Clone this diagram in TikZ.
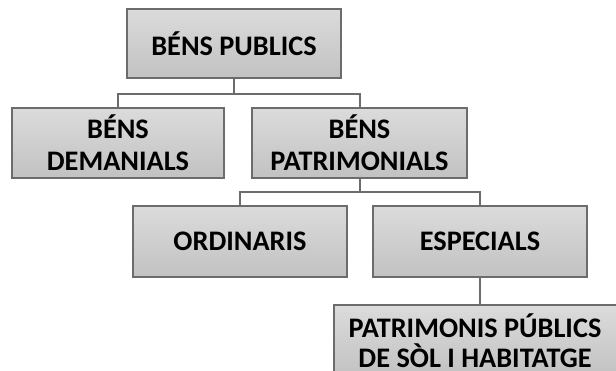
\documentclass[tikz,border=0pt]{standalone}
\usepackage{fontspec}
\setmainfont{Carlito}
\usetikzlibrary{shadows}

\begin{document}
\begin{tikzpicture}[
    x = 1pt, y = -1pt,
    box/.style = {draw = gray!85!black, line width = 1.2pt,
        top color = gray!28, bottom color = gray!48,
        minimum height = 70pt, align = center, inner sep = 0pt,
        font = \fontsize{28.3}{32}\selectfont\bfseries},
    link/.style = {draw = gray!85!black, line width = 2pt}]

\useasboundingbox (0,0) rectangle (616,371);

\node[box, minimum width = 214pt, minimum height = 69pt] (publics) at (234,43.5) {BÉNS PUBLICS};
\node[box, minimum width = 212pt] (demanials) at (118,143) {BÉNS\\DEMANIALS};
\node[box, minimum width = 215pt] (patrimonials) at (359.5,143) {BÉNS\\PATRIMONIALS};
\node[box, minimum width = 214pt, minimum height = 71pt] (ordinaris) at (240,241.5) {ORDINARIS};
\node[box, minimum width = 214pt, minimum height = 71pt] (especials) at (480,241.5) {ESPECIALS};
\node[box, minimum width = 292pt, minimum height = 72pt] (sol) at (480,341) {};
\node[font = \fontsize{28.3}{30}\selectfont\bfseries, align = center, inner sep = 0pt,
      anchor = base] (soltext) at (475,367) {PATRIMONIS PÚBLICS\\DE SÒL I HABITATGE};

\draw[link] (publics.south) -- ++(0,-15pt) -| (demanials.north);
\draw[link] (publics.south) -- ++(0,-15pt) -| (patrimonials.north);
\draw[link] (patrimonials.south) -- ++(0,-13pt) -| (ordinaris.north);
\draw[link] (patrimonials.south) -- ++(0,-13pt) -| (especials.north);
\draw[link] (especials.south) -- (sol.north);
\end{tikzpicture}
\end{document}
